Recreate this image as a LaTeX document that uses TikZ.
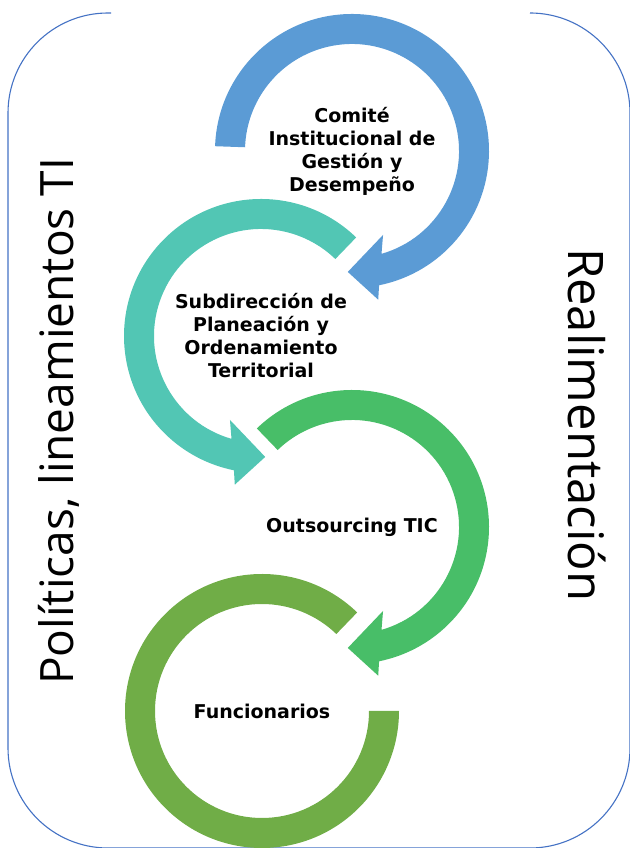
\documentclass[tikz,border=0pt]{standalone}
\usepackage{fontspec}
\newfontfamily\lblfont{DejaVu Sans}
\newfontfamily\sidefont{Open Sans}
\definecolor{cblue}{HTML}{5B9BD5}
\definecolor{cteal}{HTML}{52C6B4}
\definecolor{cgreen}{HTML}{48BE68}
\definecolor{colive}{HTML}{70AD47}
\definecolor{cborder}{HTML}{4472C4}
\begin{document}
\begin{tikzpicture}[x=1pt,y=1pt,
  lbl/.style={font=\lblfont\bfseries\fontsize{19}{23}\selectfont, align=center, inner sep=0pt},
  side/.style={font=\sidefont\fontsize{46}{50}\selectfont, inner sep=0pt},
  sidebig/.style={font=\sidefont\fontsize{49}{53}\selectfont, inner sep=0pt},
  frameline/.style={draw=cborder, line width=1.1pt}]
\useasboundingbox (0,0) rectangle (629,848);
% frame
\draw[frameline] (111,835) -- (108,835) arc[start angle=90, end angle=180, radius=100pt]
  -- (8,100) arc[start angle=180, end angle=270, radius=100pt]
  -- (530,0) arc[start angle=270, end angle=360, radius=100pt]
  -- (630,735) arc[start angle=0, end angle=90, radius=100pt] -- (533,835);
% centers
\coordinate (c1) at (352,697);
\coordinate (c2) at (261,512);
\coordinate (c3) at (352,321);
\coordinate (c4) at (262,137);
% blue
\fill[cblue, shift={(c1)}] (178:137pt) arc[start angle=178, end angle=-78.6, radius=137pt]
  -- (-80:151pt) -- (-92:121pt) -- (-69.7:89.5pt) -- (-74:107pt)
  arc[start angle=-74, end angle=178, radius=107pt] -- cycle;
% teal
\fill[cteal, shift={(c2)}] (46:137pt) arc[start angle=46, end angle=258.6, radius=137pt]
  -- (260:151pt) -- (272:121pt) -- (249.7:89.5pt) -- (254:107pt)
  arc[start angle=254, end angle=46, radius=107pt] -- cycle;
% green
\fill[cgreen, shift={(c3)}] (134:137pt) arc[start angle=134, end angle=-78.6, radius=137pt]
  -- (-80:151pt) -- (-92:121pt) -- (-69.7:89.5pt) -- (-74:107pt)
  arc[start angle=-74, end angle=134, radius=107pt] -- cycle;
% olive
\fill[colive, shift={(c4)}] (46:137pt) arc[start angle=46, end angle=360, radius=137pt]
  -- (0:107pt) arc[start angle=360, end angle=46, radius=107pt] -- cycle;
% labels
\node[lbl] (t1) at (c1) {Comité\\Institucional de\\Gestión y\\Desempeño};
\node[lbl] (t2) at (c2) {Subdirección de\\Planeación y\\Ordenamiento\\Territorial};
\node[lbl] (t3) at (c3) {Outsourcing TIC};
\node[lbl] (t4) at (c4) {Funcionarios};
% side texts
\node[side, rotate=90, anchor=base west] (pol) at (73,163) {Políticas, lineamientos TI};
\node[sidebig, rotate=-90, anchor=base west] (real) at (568,600) {Realimentación};
\end{tikzpicture}
\end{document}
